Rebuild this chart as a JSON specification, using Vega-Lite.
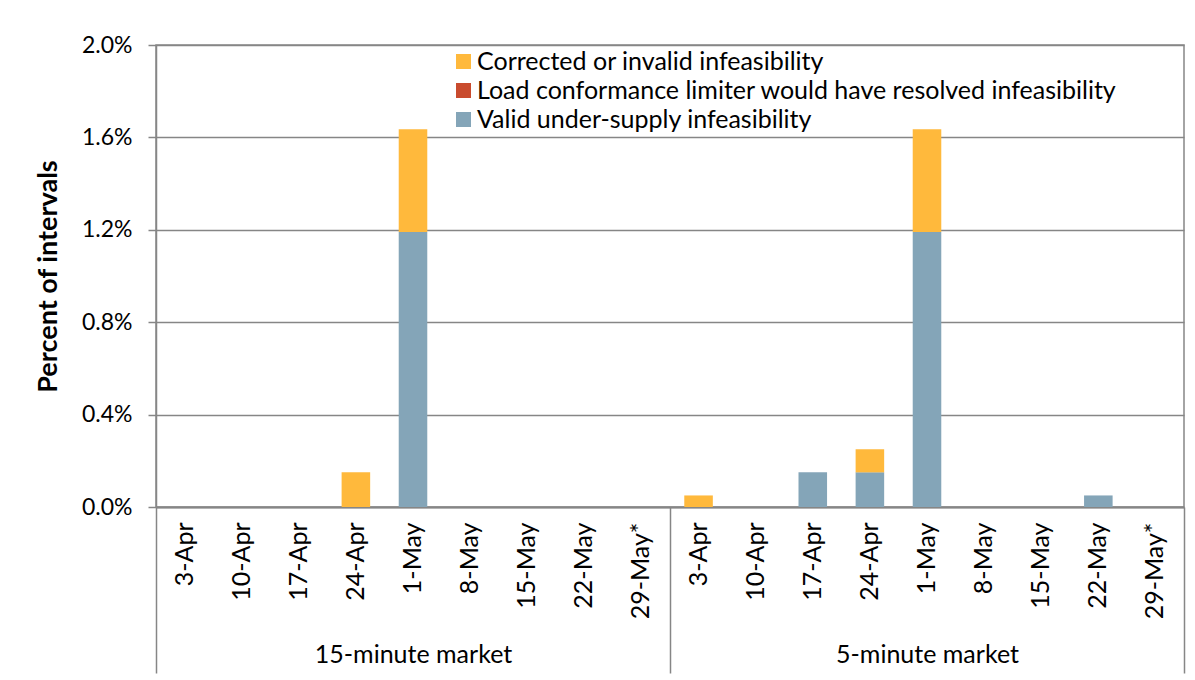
{
  "$schema": "https://vega.github.io/schema/vega-lite/v6.json",
  "width": 1028,
  "height": 462,
  "autosize": {"type": "none"},
  "padding": {"left": 156, "top": 45, "right": 11, "bottom": 173},
  "background": "white",
  "config": {
    "font": "Lato",
    "view": {"stroke": "#868686", "strokeWidth": 1.5},
    "axis": {"labelFont": "Lato", "titleFont": "Lato", "labelColor": "#000000", "titleColor": "#000000"}
  },
  "data": {
    "values": [
      {"market": "15-minute market", "slot": "15m 24-Apr", "series": "Corrected or invalid infeasibility", "value": 0.0015},
      {"market": "15-minute market", "slot": "15m 1-May", "series": "Valid under-supply infeasibility", "value": 0.0119},
      {"market": "15-minute market", "slot": "15m 1-May", "series": "Corrected or invalid infeasibility", "value": 0.00445},
      {"market": "5-minute market", "slot": "5m 3-Apr", "series": "Corrected or invalid infeasibility", "value": 0.0005},
      {"market": "5-minute market", "slot": "5m 17-Apr", "series": "Valid under-supply infeasibility", "value": 0.0015},
      {"market": "5-minute market", "slot": "5m 24-Apr", "series": "Valid under-supply infeasibility", "value": 0.0015},
      {"market": "5-minute market", "slot": "5m 24-Apr", "series": "Corrected or invalid infeasibility", "value": 0.001},
      {"market": "5-minute market", "slot": "5m 1-May", "series": "Valid under-supply infeasibility", "value": 0.0119},
      {"market": "5-minute market", "slot": "5m 1-May", "series": "Corrected or invalid infeasibility", "value": 0.00445},
      {"market": "5-minute market", "slot": "5m 22-May", "series": "Valid under-supply infeasibility", "value": 0.0005}
    ]
  },
  "layer": [
    {
      "mark": {"type": "bar"},
      "encoding": {
        "x": {
          "field": "slot",
          "type": "nominal",
          "scale": {
            "domain": ["15m 3-Apr", "15m 10-Apr", "15m 17-Apr", "15m 24-Apr", "15m 1-May", "15m 8-May", "15m 15-May", "15m 22-May", "15m 29-May*",
                       "5m 3-Apr", "5m 10-Apr", "5m 17-Apr", "5m 24-Apr", "5m 1-May", "5m 8-May", "5m 15-May", "5m 22-May", "5m 29-May*"],
            "paddingInner": 0.5,
            "paddingOuter": 0.25
          },
          "axis": {
            "orient": "bottom",
            "title": null,
            "labelExpr": "split(datum.label, ' ')[1]",
            "labelAngle": -90,
            "labelAlign": "right",
            "labelBaseline": "middle",
            "labelFontSize": 25,
            "labelPadding": 15,
            "ticks": false,
            "domainColor": "#868686",
            "domainWidth": 2,
            "grid": false
          }
        },
        "y": {
          "field": "value",
          "type": "quantitative",
          "aggregate": "sum",
          "stack": "zero",
          "scale": {"domain": [0, 0.02], "nice": false},
          "axis": {
            "title": "Percent of intervals",
            "titleFontSize": 27,
            "titleFontWeight": "bold",
            "titlePadding": 19,
            "format": ".1%",
            "values": [0, 0.004, 0.008, 0.012, 0.016, 0.02],
            "labelFontSize": 23,
            "labelPadding": 16,
            "tickSize": 8,
            "tickColor": "#868686",
            "tickWidth": 1.5,
            "domainColor": "#868686",
            "domainWidth": 1.5,
            "gridColor": "#868686",
            "gridWidth": 1.5
          }
        },
        "color": {
          "field": "series",
          "type": "nominal",
          "scale": {
            "domain": ["Corrected or invalid infeasibility", "Load conformance limiter would have resolved infeasibility", "Valid under-supply infeasibility"],
            "range": ["#FFB93C", "#C94B2E", "#84A5B8"]
          },
          "legend": {
            "title": null,
            "orient": "none",
            "legendX": 295,
            "legendY": 4,
            "symbolType": "square",
            "symbolSize": 225,
            "symbolStrokeWidth": 0,
            "labelFontSize": 25,
            "labelFont": "Lato",
            "labelColor": "#000000",
            "labelLimit": 900,
            "rowPadding": 3,
            "labelOffset": 1
          }
        },
        "order": {"field": "series", "sort": "descending"}
      }
    },
    {
      "mark": {"type": "rule", "opacity": 0},
      "encoding": {
        "x": {
          "field": "market",
          "type": "nominal",
          "scale": {"domain": ["15-minute market", "5-minute market"], "paddingInner": 0, "paddingOuter": 0},
          "axis": {
            "orient": "bottom",
            "title": null,
            "labelAngle": 0,
            "labelFontSize": 25,
            "labelLimit": 500,
            "labelPadding": -31,
            "labelBaseline": "top",
            "tickBand": "extent",
            "tickSize": 166,
            "tickColor": "#868686",
            "tickWidth": 1.5,
            "domain": false,
            "grid": false
          }
        }
      }
    }
  ],
  "resolve": {"scale": {"x": "independent"}, "axis": {"x": "independent"}}
}
